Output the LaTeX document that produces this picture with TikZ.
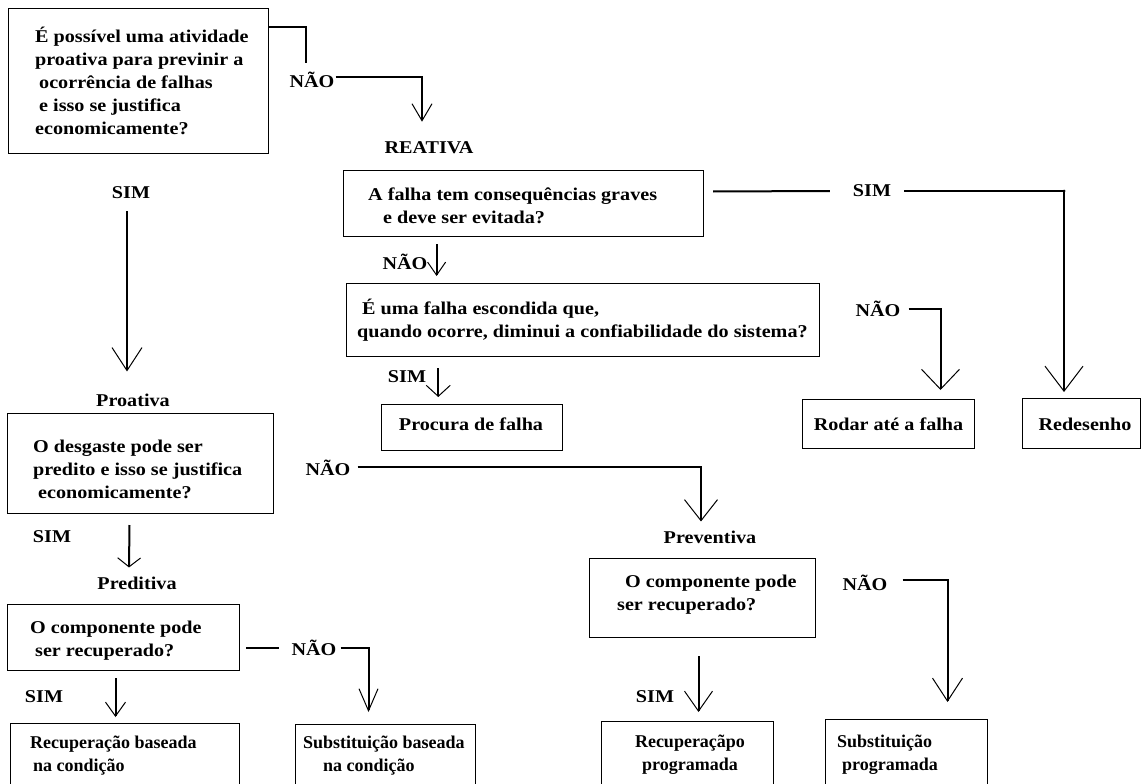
\documentclass[tikz,border=0pt]{standalone}
\usepackage{fontspec}
\setmainfont{Liberation Serif}[FakeStretch=1.12]
\newfontfamily\estreita{Liberation Serif}
\usetikzlibrary{arrows.meta, positioning}

\tikzset{
  box/.style={draw, line width=1pt, anchor=north west, inner sep=0pt},
  txt/.style={anchor=west, align=left, inner sep=0pt},
  fim/.style={txt, font=\fontsize{18}{23}\estreita\bfseries},
  lbl/.style={inner sep=1pt},
  conn/.style={line width=2pt},
  arr/.style 2 args={conn, -{Straight Barb[width=#1pt, length=#2pt, line width=1pt]}}
}

\begin{document}
\begin{tikzpicture}[x=1pt, y=-1pt, font=\fontsize{18}{23}\selectfont\bfseries]
  \path[use as bounding box, fill=white] (0,0) rectangle (1144,784);
  \clip (0,0) rectangle (1144,784);

  % reativa branch
  \node[box, minimum width=260pt, minimum height=145pt] (q1) at (8,8) {};
  \node[txt] (q1t) at (35,80.5) {É possível uma atividade\\proativa para previnir a\\\hspace*{4pt}ocorrência de falhas\\\hspace*{4pt}e isso se justifica\\economicamente?};
  \node[lbl] (nao1) at (312,80) {NÃO};
  \node[lbl] (reativa) at (429,148) {REATIVA};
  \node[box, minimum width=360pt, minimum height=66pt] (q2) at (343,170) {};
  \node[txt] (q2t) at (368,205.5) {A falha tem consequências graves\\\hspace*{15pt}e deve ser evitada?};
  \node[lbl] (sim2) at (872,191) {SIM};
  \node[lbl] (nao2) at (405,262) {NÃO};
  \node[box, minimum width=473pt, minimum height=73pt] (q3) at (346,283) {};
  \node[txt] (q3t) at (357,320.5) {\hspace*{5pt}É uma falha escondida que,\\quando ocorre, diminui a confiabilidade do sistema?};
  \node[lbl] (sim3) at (407,377) {SIM};
  \node[box, minimum width=181pt, minimum height=46pt] (procura) at (381,404) {};
  \node[txt, anchor=center] (procurat) at (471,424) {Procura de falha};
  \node[lbl] (nao3) at (878,309) {NÃO};
  \node[box, minimum width=172pt, minimum height=49pt] (rodar) at (802,399) {Rodar até a falha};
  \node[box, minimum width=118pt, minimum height=50pt] (redes) at (1022,398) {};
  \node[txt, anchor=center] (redest) at (1085,424) {Redesenho};
  \coordinate (cantoR) at (1064,191);

  % proativa branch
  \node[lbl] (sim1) at (131,193) {SIM};
  \node[lbl] (proativa) at (133,400) {Proativa};
  \node[box, minimum width=266pt, minimum height=100pt] (q4) at (7,413) {};
  \node[txt] (q4t) at (33,469.5) {O desgaste pode ser\\predito e isso se justifica\\\hspace*{5pt}economicamente?};
  \node[lbl] (nao4) at (328,468) {NÃO};
  \node[lbl] (sim4) at (52,537) {SIM};
  \node[lbl] (preditiva) at (137,583) {Preditiva};
  \node[lbl] (preventiva) at (710,537) {Preventiva};

  \node[box, minimum width=232pt, minimum height=66pt] (q5) at (7,604) {};
  \node[txt] (q5t) at (30,640.5) {O componente pode\\\hspace*{5pt}ser recuperado?};
  \node[lbl] (nao5) at (314,648) {NÃO};
  \node[lbl] (sim5) at (44,697) {SIM};
  \node[box, minimum width=229pt, minimum height=90pt] (recb) at (10,723) {};
  \node[fim] (recbt) at (30,756) {Recuperação baseada\\\hspace*{3pt}na condição};
  \node[box, minimum width=180pt, minimum height=90pt] (subb) at (295,724) {};
  \node[fim] (subbt) at (303,756) {Substituição baseada\\\hspace*{20pt}na condição};

  \node[box, minimum width=226pt, minimum height=79pt] (q6) at (589,558) {};
  \node[txt] (q6t) at (617,595) {\hspace*{8pt}O componente pode\\ser recuperado?};
  \node[lbl] (nao6) at (865,583) {NÃO};
  \node[lbl] (sim6) at (655,697) {SIM};
  \node[box, minimum width=172pt, minimum height=90pt] (recp) at (601,721) {};
  \node[fim, anchor=center, align=center] (recpt) at (690,755) {Recuperaçãpo\\programada};
  \node[box, minimum width=162pt, minimum height=90pt] (subp) at (825,719) {};
  \node[fim] (subpt) at (837,755) {Substituição\\\hspace*{5pt}programada};

  % connectors
  \draw[conn] ([yshift=-19pt]q1.north east) -| ([xshift=-6pt,yshift=8pt]nao1.north);
  \draw[arr={20}{17}] ([yshift=3pt]nao1.east) -| ([xshift=-7pt,yshift=19pt]reativa.north);
  \draw[arr={18}{13}] ([xshift=8pt,yshift=-7pt]nao2.east |- q2.south) -- ([xshift=8pt,yshift=7pt]nao2.east |- q3.north);
  \draw[arr={24}{11}] ([xshift=11pt,yshift=-11pt]sim3.east |- q3.south) -- ([xshift=11pt,yshift=7pt]sim3.east |- procura.north);
  \draw[conn] ([xshift=9pt,yshift=12pt]q2.east) -- ([xshift=-22pt]sim2.west);
  \draw[arr={38}{25}] ([xshift=12pt]sim2.east) -- (cantoR) -- ([yshift=6pt]redes.north -| cantoR);
  \fill (cantoR) circle (1.5pt);
  \draw[arr={38}{20}] ([xshift=7pt]nao3.east) -| ([xshift=52pt,yshift=9pt]rodar.north);

  \draw[arr={30}{23}] ([xshift=-4pt,yshift=-11pt]sim1.south) -- ([xshift=-6pt,yshift=21pt]proativa.north);
  \draw[arr={33}{21}] ([xshift=6pt,yshift=1pt]nao4.east) -| ([xshift=-9pt,yshift=8pt]preventiva.north);
  \draw[arr={23}{9}] ([xshift=-11pt,yshift=-11pt]q4.south) -- ([xshift=-8pt,yshift=8pt]preditiva.north);

  \draw[conn] ([xshift=6pt]q5.east |- nao5.west) -- ([xshift=-11pt]nao5.west);
  \draw[arr={19}{22}] ([xshift=3pt]nao5.east) -| ([xshift=-17pt,yshift=12pt]subb.north);
  \draw[arr={20}{14}] ([xshift=-8pt,yshift=-7pt]q5.south) -- ([xshift=-8pt,yshift=6pt]q5.south |- recb.north);
  \draw[arr={28}{20}] ([xshift=-4pt,yshift=-18pt]q6.south) -- ([xshift=-4pt,yshift=9pt]q6.south |- recp.north);
  \draw[arr={30}{23}] ([xshift=14pt,yshift=3pt]nao6.east) -| ([xshift=41pt,yshift=17pt]subp.north);
\end{tikzpicture}
\end{document}
